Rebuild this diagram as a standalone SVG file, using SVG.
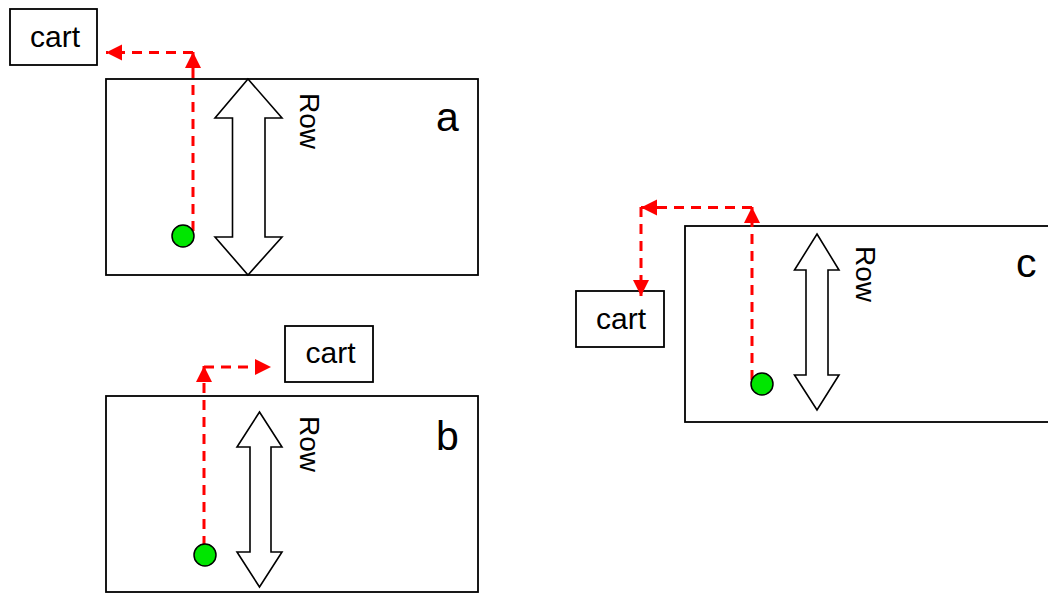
<svg xmlns="http://www.w3.org/2000/svg" width="1048" height="593" viewBox="0 0 1048 593">
  <style>
    .panel { fill: #ffffff; stroke: #000000; stroke-width: 1.8; }
    .cartbox { fill: #ffffff; stroke: #000000; stroke-width: 1.8; }
    .cart { font-family: "Liberation Sans", Arial, sans-serif; font-size: 30px; fill: #000000; text-anchor: middle; }
    .label { font-family: "Liberation Sans", Arial, sans-serif; font-size: 41px; fill: #000000; }
    .row { font-family: "Liberation Sans", Arial, sans-serif; font-size: 28px; fill: #000000; }
    .dbl { fill: #ffffff; stroke: #000000; stroke-width: 1.6; stroke-linejoin: miter; }
    .dot { fill: #00e600; stroke: #000000; stroke-width: 1.5; }
    .path { fill: none; stroke: #ff0000; stroke-width: 3; stroke-dasharray: 10 7; marker-end: url(#head); }
  </style>
  <defs>
    <marker id="head" markerUnits="userSpaceOnUse" markerWidth="18" markerHeight="17" refX="16" refY="8" orient="auto">
      <path d="M0,0 L16,8 L0,16 Z" fill="#ff0000"/>
    </marker>
  </defs>

  <rect width="1048" height="593" fill="#ffffff"/>

  <!-- panel a -->
  <g id="panel-a">
    <rect class="panel" x="106" y="79" width="372" height="196"/>
    <polygon class="dbl" points="248,79 282,118 265,118 265,237 282,237 248,275 215,237 232.5,237 232.5,118 215,118"/>
    <text class="row" transform="translate(300,93) rotate(90)">Row</text>
    <text class="label" x="436" y="131">a</text>
  </g>

  <!-- panel b -->
  <g id="panel-b">
    <rect class="panel" x="106" y="396" width="372" height="196"/>
    <polygon class="dbl" points="259.5,412 282,447 271,447 271,552 282,552 259.5,587 237,552 250,552 250,447 237,447"/>
    <text class="row" transform="translate(300,416) rotate(90)">Row</text>
    <text class="label" x="436" y="450">b</text>
  </g>

  <!-- panel c -->
  <g id="panel-c">
    <rect class="panel" x="685" y="226" width="380" height="196"/>
    <polygon class="dbl" points="817,234 839,270 828,270 828,375 839,375 817,410 794.5,375 806,375 806,270 794.5,270"/>
    <text class="row" transform="translate(856,246) rotate(90)">Row</text>
    <text class="label" x="1016" y="277">c</text>
  </g>

  <!-- carts -->
  <g id="cart-a">
    <rect class="cartbox" x="10" y="9" width="87" height="56"/>
    <text class="cart" x="55" y="47">cart</text>
  </g>
  <g id="cart-b">
    <rect class="cartbox" x="285" y="326" width="88" height="56"/>
    <text class="cart" x="330.5" y="363">cart</text>
  </g>
  <g id="cart-c">
    <rect class="cartbox" x="576" y="291" width="88" height="56"/>
    <text class="cart" x="621" y="329">cart</text>
  </g>

  <!-- routes to the cart -->
  <g id="connectors">
    <line class="path" x1="193" y1="231" x2="193" y2="52"/>
    <line class="path" x1="193" y1="52.5" x2="106" y2="52.5"/>
    <line class="path" x1="204" y1="546" x2="204" y2="366"/>
    <line class="path" x1="204" y1="367" x2="271" y2="367"/>
    <line class="path" x1="752" y1="380" x2="752" y2="207"/>
    <line class="path" x1="752" y1="207.5" x2="641" y2="207.5"/>
    <line class="path" x1="641" y1="207" x2="641" y2="296"/>
  </g>

  <!-- pickers -->
  <g id="picker-a"><circle class="dot" cx="183" cy="236" r="11"/></g>
  <g id="picker-b"><circle class="dot" cx="205" cy="555" r="11"/></g>
  <g id="picker-c"><circle class="dot" cx="762" cy="384" r="11"/></g>
</svg>
